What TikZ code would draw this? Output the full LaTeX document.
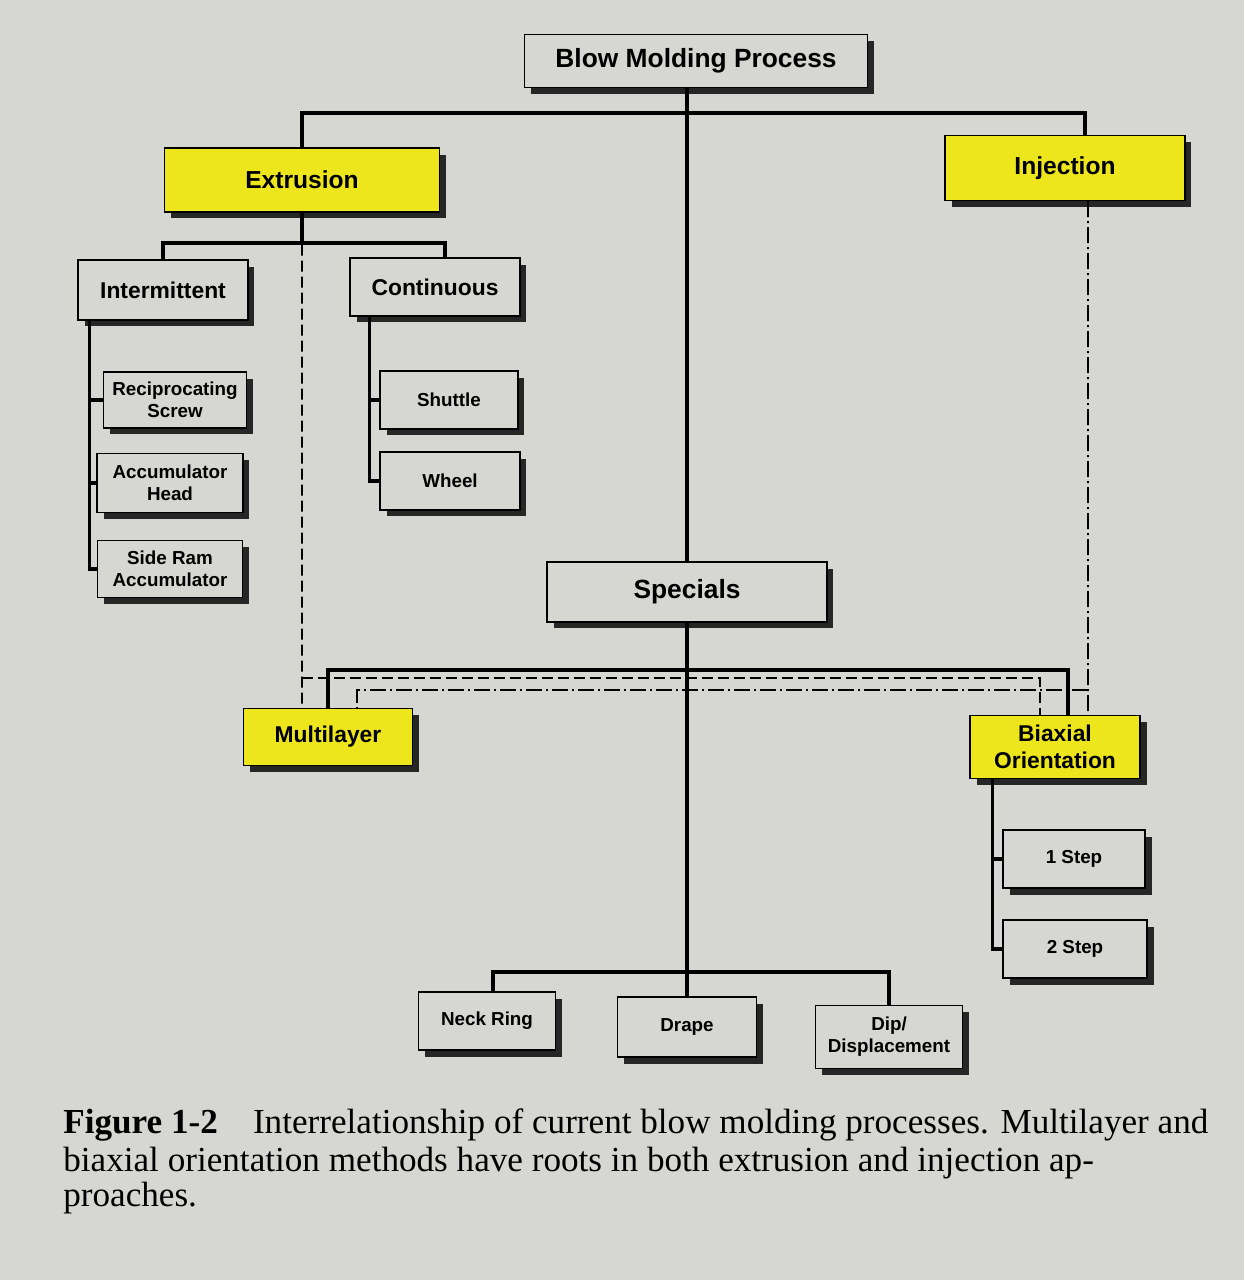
\documentclass[tikz,border=0pt]{standalone}
\usepackage{fontspec}
\setsansfont{Liberation Sans}
\setmainfont{Liberation Serif}
\usetikzlibrary{shadows}
\definecolor{paper}{RGB}{214,214,211}
\definecolor{marker}{RGB}{238,230,28}

\begin{document}
\begin{tikzpicture}[x=0.02cm,y=-0.02cm,
  box/.style={draw, line width=0.8pt, fill=paper, align=center, inner sep=2pt,
    drop shadow={shadow xshift=0.13cm, shadow yshift=-0.13cm, opacity=1, fill=black!85}},
  hilite/.style={box, fill=marker},
  huge/.style={font=\sffamily\bfseries\fontsize{15}{17}\selectfont},
  large/.style={font=\sffamily\bfseries\fontsize{14}{16}\selectfont},
  medium/.style={font=\sffamily\bfseries\fontsize{13}{15}\selectfont},
  small/.style={font=\sffamily\bfseries\fontsize{10.7}{12.5}\selectfont},
  caption/.style={anchor=base west, inner sep=0pt, font=\fontsize{20}{23}\selectfont},
  link/.style={line width=1.9pt},
  extlink/.style={line width=1pt, dash pattern=on 0.22cm off 0.1cm},
  injlink/.style={line width=1pt, dash pattern=on 0.32cm off 0.08cm on 0.04cm off 0.08cm}]
  % paper
  \fill[paper] (0,0) rectangle (1244,1280);
  \useasboundingbox (0,0) rectangle (1244,1280);

  % boxes
  \node[box, huge, minimum width=6.86cm, minimum height=1.06cm] (root) at (696,61) {Blow Molding Process};
  \node[hilite, large, minimum width=5.5cm, minimum height=1.28cm] (extrusion) at (302,180) {Extrusion};
  \node[hilite, large, minimum width=4.8cm, minimum height=1.3cm] (injection) at (1065,168) {Injection};
  \node[box, medium, minimum width=3.4cm, minimum height=1.2cm] (intermittent) at (163,290) {Intermittent};
  \node[box, medium, minimum width=3.4cm, minimum height=1.16cm] (continuous) at (435,287) {Continuous};
  \node[box, small, minimum width=2.86cm, minimum height=1.12cm] (recip) at (175,400) {Reciprocating\\Screw};
  \node[box, small, minimum width=2.92cm, minimum height=1.18cm] (accum) at (170,483) {Accumulator\\Head};
  \node[box, small, minimum width=2.9cm, minimum height=1.14cm] (sideram) at (170,569) {Side Ram\\Accumulator};
  \node[box, small, minimum width=2.76cm, minimum height=1.16cm] (shuttle) at (449,400) {Shuttle};
  \node[box, small, minimum width=2.8cm, minimum height=1.16cm] (wheel) at (450,481) {Wheel};
  \node[box, huge, minimum width=5.6cm, minimum height=1.2cm] (specials) at (687,592) {Specials};
  \node[hilite, medium, minimum width=3.38cm, minimum height=1.14cm] (multilayer) at (328,737) {Multilayer};
  \node[hilite, medium, minimum width=3.4cm, minimum height=1.26cm] (biaxial) at (1055,747) {Biaxial\\Orientation};
  \node[box, small, minimum width=2.84cm, minimum height=1.16cm] (onestep) at (1074,859) {1 Step};
  \node[box, small, minimum width=2.88cm, minimum height=1.16cm] (twostep) at (1075,949) {2 Step};
  \node[box, small, minimum width=2.74cm, minimum height=1.16cm] (neckring) at (487,1021) {Neck Ring};
  \node[box, small, minimum width=2.78cm, minimum height=1.2cm] (drape) at (687,1027) {Drape};
  \node[box, small, minimum width=2.94cm, minimum height=1.26cm] (dip) at (889,1037) {Dip/\\Displacement};

  % solid tree
  \coordinate (topbus) at (687,113);
  \coordinate (extbus) at (302,243);
  \coordinate (msbus) at (687,670);
  \coordinate (spbus) at (687,972);
  \draw[link] (specials.north) -- (specials.north |- root.south);
  \draw[link] (extrusion.north) |- (topbus) -| ([xshift=0.4cm]injection.north);
  \draw[link] (extrusion.south) -- (extbus);
  \draw[link] (intermittent.north) |- (extbus) -| ([xshift=0.2cm]continuous.north);
  \coordinate (intstem) at ([xshift=0.24cm]intermittent.south west);
  \draw[link] (intstem) |- (sideram.west);
  \draw[link] (recip.west) -- (recip.west -| intstem);
  \draw[link] (accum.west) -- (accum.west -| intstem);
  \coordinate (contstem) at ([xshift=0.4cm]continuous.south west);
  \draw[link] (contstem) |- (wheel.west);
  \draw[link] (shuttle.west) -- (shuttle.west -| contstem);
  \draw[link] (specials.south) -- (drape.north);
  \draw[link] ([xshift=0.12cm]neckring.north) |- (spbus) -| (dip.north);
  \draw[link] (multilayer.north) |- (msbus) -| ([xshift=0.26cm]biaxial.north);
  \coordinate (biaxstem) at ([xshift=0.46cm]biaxial.south west);
  \draw[link] (biaxstem) |- (twostep.west);
  \draw[link] (onestep.west) -- (onestep.west -| biaxstem);

  % extrusion and injection roots
  \coordinate (extdash) at (302,678);
  \coordinate (injdash) at (1088,690);
  \draw[extlink] (extrusion.south) -- ([xshift=-0.52cm]multilayer.north);
  \draw[extlink] (extdash) -| ([xshift=-0.3cm]biaxial.north);
  \draw[injlink] ([xshift=0.46cm]injection.south) -- ([xshift=0.66cm]biaxial.north);
  \draw[injlink] (injdash) -| ([xshift=0.58cm]multilayer.north);

  % caption
  \node[caption] (capA) at (63,1133) {\textbf{Figure 1-2}\quad Interrelationship of current blow molding processes. Multilayer and};
  \node[caption] (capB) at (63,1171) {biaxial orientation methods have roots in both extrusion and injection ap-};
  \node[caption] (capC) at (63,1206) {proaches.};
\end{tikzpicture}
\end{document}
